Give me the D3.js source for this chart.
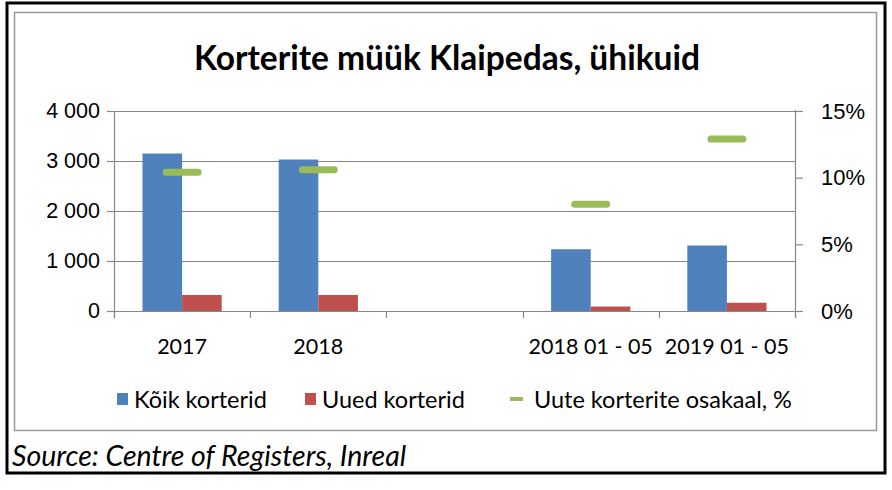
<!DOCTYPE html>
<html>
<head>
<meta charset="utf-8">
<script src="https://cdn.jsdelivr.net/npm/d3@7"></script>
<style>
  body { margin: 0; background: #fff; }
  svg { display: block; font-family: Lato, "Open Sans", sans-serif; }
</style>
</head>
<body>
<svg id="chart" width="892" height="490"></svg>
<script>
// data
const categories = ['2017', '2018', '', '2018 01 - 05', '2019 01 - 05']
const allFlats = [3150, 3030, null, 1235, 1310]   // Kõik korterid
const newFlats = [320, 320, null, 90, 165]         // Uued korterid
const newShare = [10.4, 10.6, null, 8.0, 12.9]    // Uute korterite osakaal, %
const leftTicks = [0, 1000, 2000, 3000, 4000]
const rightTicks = [0, 5, 10, 15]

const BLUE = '#4f81bd', RED = '#c0504d', GREEN = '#9bbb59', GRID = '#878787'

const svg = d3.select('#chart')

// outer black frame + inner gray chart frame
svg.append('rect').attr('x', 7).attr('y', 3).attr('width', 878).attr('height', 470)
  .attr('fill', '#fff').attr('stroke', '#000').attr('stroke-width', 3)
svg.append('rect').attr('x', 14.5).attr('y', 12.5).attr('width', 862).attr('height', 418)
  .attr('fill', 'none').attr('stroke', '#9a9a9a').attr('stroke-width', 1.5)

svg.append('text').attr('x', 447).attr('y', 70).attr('text-anchor', 'middle')
  .attr('font-size', 33.5).attr('font-weight', 'bold').attr('letter-spacing', 0)
  .text('Korterite müük Klaipedas, ühikuid')

const pLeft = 114, pRight = 795, pTop = 111, pBottom = 311

const x = d3.scaleBand().domain(d3.range(categories.length)).range([pLeft, pRight])
const inner = d3.scaleBand().domain(['all', 'new']).range([0, x.bandwidth()]).paddingOuter(0.72).paddingInner(0)
const y = d3.scaleLinear().domain([0, 4000]).range([pBottom, pTop])
const y2 = d3.scaleLinear().domain([0, 15]).range([pBottom, pTop])

const withIndex = arr => arr.map((v, i) => ({ v, i })).filter(d => d.v != null)

// gridlines
svg.append('g').selectAll('line').data(leftTicks.slice(1)).join('line')
  .attr('x1', pLeft).attr('x2', pRight)
  .attr('y1', d => Math.round(y(d)) + 0.5).attr('y2', d => Math.round(y(d)) + 0.5)
  .attr('stroke', GRID).attr('stroke-width', 1.2)

// bars
const bars = svg.append('g')
bars.selectAll('rect.all').data(withIndex(allFlats)).join('rect').attr('class', 'all')
  .attr('x', d => x(d.i) + inner('all'))
  .attr('y', d => y(d.v)).attr('width', inner.bandwidth()).attr('height', d => pBottom - y(d.v))
  .attr('fill', BLUE)
bars.selectAll('rect.new').data(withIndex(newFlats)).join('rect').attr('class', 'new')
  .attr('x', d => x(d.i) + inner('new'))
  .attr('y', d => y(d.v)).attr('width', inner.bandwidth()).attr('height', d => pBottom - y(d.v))
  .attr('fill', RED)

// share markers (dash)
svg.append('g').selectAll('line').data(withIndex(newShare)).join('line')
  .attr('x1', d => x(d.i) + x.bandwidth() / 2 - 16).attr('x2', d => x(d.i) + x.bandwidth() / 2 + 16)
  .attr('y1', d => y2(d.v)).attr('y2', d => y2(d.v))
  .attr('stroke', GREEN).attr('stroke-width', 7).attr('stroke-linecap', 'round')

// axes
const axisFont = g => g.selectAll('text').attr('font-size', 21.5).attr('fill', '#000')
const fmt = d => d3.format(',')(d).replace(',', ' ')

svg.append('g').attr('transform', `translate(${pLeft},0)`)
  .call(d3.axisLeft(y).tickValues(leftTicks).tickFormat(fmt).tickSize(7).tickPadding(7))
  .call(g => g.select('.domain').remove())
  .call(g => g.selectAll('line').attr('stroke', GRID).attr('stroke-width', 1.2))
  .call(axisFont)
svg.append('line').attr('x1', pLeft + 0.5).attr('x2', pLeft + 0.5).attr('y1', pTop).attr('y2', pBottom + 7)
  .attr('stroke', GRID).attr('stroke-width', 1.2)

svg.append('g').attr('transform', `translate(${pRight},0)`)
  .call(d3.axisRight(y2).tickValues(rightTicks).tickFormat(d => d + '%').tickSize(8).tickPadding(18))
  .call(g => g.select('.domain').remove())
  .call(g => g.selectAll('line').attr('stroke', GRID).attr('stroke-width', 1.2))
  .call(g => g.selectAll('text').attr('font-size', 22).attr('fill', '#000'))
svg.append('line').attr('x1', pRight + 0.5).attr('x2', pRight + 0.5).attr('y1', pTop - 1).attr('y2', pBottom + 7)
  .attr('stroke', GRID).attr('stroke-width', 1.2)

// category axis
const xb = svg.append('g')
xb.append('line').attr('x1', pLeft).attr('x2', pRight + 8).attr('y1', pBottom + 0.5).attr('y2', pBottom + 0.5)
  .attr('stroke', GRID).attr('stroke-width', 1.2)
xb.selectAll('line.tick').data(d3.range(categories.length + 1)).join('line').attr('class', 'tick')
  .attr('x1', i => Math.round(pLeft + i * x.step()) + 0.5).attr('x2', i => Math.round(pLeft + i * x.step()) + 0.5)
  .attr('y1', pBottom).attr('y2', pBottom + 7)
  .attr('stroke', GRID).attr('stroke-width', 1.2)
xb.selectAll('text').data(categories).join('text')
  .attr('x', (d, i) => x(i) + x.bandwidth() / 2).attr('y', 354)
  .attr('text-anchor', 'middle').attr('font-size', 21.5).text(d => d)

// legend
const legend = [
  { label: 'Kõik korterid', color: BLUE, x: 117, kind: 'box' },
  { label: 'Uued korterid', color: RED, x: 305, kind: 'box' },
  { label: 'Uute korterite osakaal, %', color: GREEN, x: 510, kind: 'dash' }
]
const lg = svg.append('g').selectAll('g').data(legend).join('g')
  .attr('transform', d => `translate(${d.x},0)`)
lg.filter(d => d.kind === 'box').append('rect')
  .attr('x', 0).attr('y', 393).attr('width', 11).attr('height', 12).attr('fill', d => d.color)
lg.filter(d => d.kind === 'dash').append('rect')
  .attr('x', 0).attr('y', 397).attr('width', 13).attr('height', 4).attr('fill', d => d.color)
lg.append('text').attr('x', d => d.kind === 'box' ? 17 : 24).attr('y', 408)
  .attr('font-size', 23.5).text(d => d.label)

svg.append('text').attr('x', 12).attr('y', 466).attr('font-size', 28.5).attr('font-style', 'italic')
  .text('Source: Centre of Registers, Inreal')
</script>
</body>
</html>
